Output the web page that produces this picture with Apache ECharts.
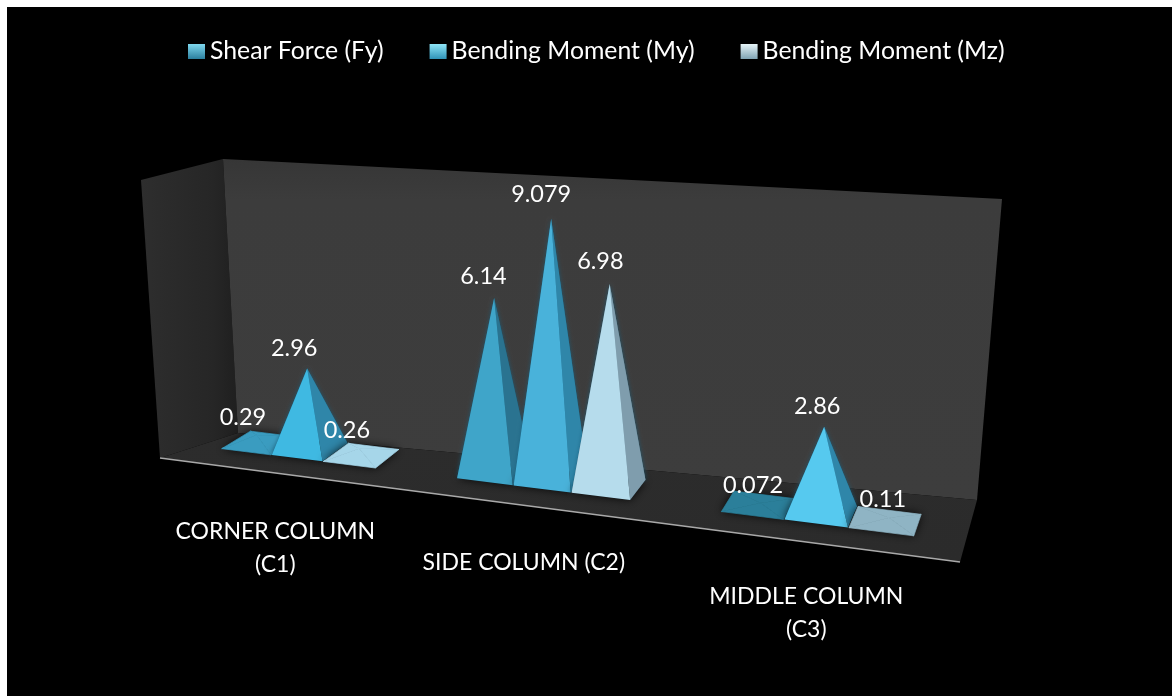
<!DOCTYPE html>
<html>
<head>
<meta charset="utf-8">
<style>html,body{margin:0;padding:0;background:#fff}#chart{width:1172px;height:696px}</style>
<script src="https://cdn.jsdelivr.net/npm/echarts@6/dist/echarts.min.js"></script>
</head>
<body>
<div id="chart"></div>
<script>
const categories = ['CORNER COLUMN\n(C1)', 'SIDE COLUMN (C2)', 'MIDDLE COLUMN\n(C3)'];
const shearForceFy = [0.29, 6.14, 0.072];
const bendingMomentMy = [2.96, 9.079, 2.86];
const bendingMomentMz = [0.26, 6.98, 0.11];
const seriesNames = ['Shear Force (Fy)', 'Bending Moment (My)', 'Bending Moment (Mz)'];

const FONT = 'Lato';

// Face colours of each pyramid, per series; front is listed per category,
// low holds the tint of nearly flat marks (taller, shorter)
const faces = [
  { front: ['#3ea3c8', '#3fa5c9', '#3fa5c9'], side: '#2a7390', back: '#1f5d76',
    low: ['#3a9cc0', '#2b7f9a'], swatch: ['#7fd8ee', '#2b7f9e'] },
  { front: ['#3fb9e2', '#49b2da', '#56c9ef'], side: '#2f86a9', back: '#1f6380',
    low: ['#45b5dc', '#45b5dc'], swatch: ['#8fe6f8', '#2f93b8'] },
  { front: ['#b9deee', '#b6dcec', '#b9deee'], side: '#7f9dad', back: '#5f7d8c',
    low: ['#a6d6e9', '#8fb4c4'], swatch: ['#e6f4f8', '#7fa3b3'] }
];

// Oblique floor projection: bands widen slightly to the right and the floor tilts downwards
const SPREAD = 14.5, TILT = 0.126;
function floorPoint(u, centre, band, zeroY) {
  const x = centre + band * u + SPREAD * u * u;
  return [x, zeroY + TILT * (x - centre)];
}
function depthVector(u) { return [18 - 8 * u, -(19.5 + 1.5 * u)]; }

function pyramid(seriesIndex) {
  return function (params, api) {
    const cat = api.value(0), value = api.value(1);
    const origin = api.coord([cat, 0]);
    const peak = api.coord([cat, value]);
    const band = api.size([1, 0])[0];
    const centre = api.coord([1, 0])[0];
    const u = (origin[0] - centre) / band + (seriesIndex - 1) * 0.2235;
    const half = 0.11;
    const fl = floorPoint(u - half, centre, band, origin[1]);
    const fr = floorPoint(u + half, centre, band, origin[1]);
    const dl = depthVector(u - half), dr = depthVector(u + half);
    const bl = [fl[0] + dl[0], fl[1] + dl[1]];
    const br = [fr[0] + dr[0], fr[1] + dr[1]];
    const height = (origin[1] - peak[1]) * (1 + 0.05 * u);
    const apex = [(fl[0] + fr[0] + bl[0] + br[0]) / 4 + 3 * u, (fl[1] + fr[1] + bl[1] + br[1]) / 4 - height];
    const f = faces[seriesIndex];
    const flat = height < 15;
    const tint = f.low[height < 4 ? 1 : 0];
    const poly = (points, fill, extra) => ({
      type: 'polygon',
      shape: { points },
      style: Object.assign({ fill }, flat ? { stroke: tint, lineWidth: 0.7 } : {}, extra || {})
    });
    const frontFill = flat ? tint : f.front[cat];
    const halo = flat ? {} : { shadowBlur: 4, shadowColor: 'rgba(25,95,125,0.8)' };
    return {
      type: 'group',
      children: [
        {
          type: 'polygon',
          shape: { points: [fl, fr, br, bl] },
          style: { fill: 'rgba(8,22,28,0.9)', shadowBlur: 10, shadowColor: 'rgba(0,0,0,0.95)' }
        },
        poly([bl, br, apex], flat ? tint : f.back, halo),
        poly([fl, bl, apex], flat ? tint : f.back, halo),
        poly([fr, br, apex], flat ? tint : f.side),
        poly([fl, fr, apex], frontFill),
        {
          type: 'text',
          z2: 50,
          style: {
            x: apex[0] - 10 + 3 * u, y: apex[1] - 18 - height * 0.023,
            text: String(value),
            fill: '#fff', font: '23.5px ' + FONT,
            align: 'center', verticalAlign: 'middle'
          }
        }
      ]
    };
  };
}

function categoryLabel(params, api) {
  const cat = api.value(0);
  const origin = api.coord([cat, 0]);
  const band = api.size([1, 0])[0];
  const centre = api.coord([1, 0])[0];
  const u = (origin[0] - centre) / band;
  const p = floorPoint(u, centre, band, origin[1]);
  return {
    type: 'text',
    style: {
      x: p[0] - 18.2 + 6 * u + 2.5 * u * u, y: p[1] + 57,
      text: categories[cat],
      fill: '#fff', font: '23px ' + FONT, lineHeight: 33,
      align: 'center', verticalAlign: 'top'
    }
  };
}

function pyramidSeries(name, values, i) {
  return {
    type: 'custom',
    name,
    z: 3 + i,
    renderItem: pyramid(i),
    encode: { x: 0, y: 1 },
    data: values.map((v, k) => [k, v])
  };
}

const wall = (points, stops, x2, y2) => ({
  type: 'polygon', z: 0, silent: true,
  shape: { points },
  style: { fill: new echarts.graphic.LinearGradient(0, 0, x2, y2, stops) }
});

const chart = echarts.init(document.getElementById('chart'));
chart.setOption({
  animation: false,
  backgroundColor: '#ffffff',
  textStyle: { fontFamily: FONT },
  grid: { left: 152.75, width: 778.5, top: 202, height: 287 },
  xAxis: { type: 'category', data: categories, show: false },
  yAxis: { type: 'value', min: 0, max: 10, show: false },
  legend: {
    left: 183, top: 34,
    itemWidth: 17, itemHeight: 15, itemGap: 46,
    textStyle: { color: '#fff', fontSize: 24.8, fontFamily: FONT },
    data: seriesNames.map((name, i) => ({
      name, icon: 'rect',
      itemStyle: {
        color: new echarts.graphic.LinearGradient(0, 0, 0, 1, [
          { offset: 0, color: faces[i].swatch[0] }, { offset: 1, color: faces[i].swatch[1] }
        ])
      }
    }))
  },
  graphic: [
    { type: 'rect', z: 0, silent: true, shape: { x: 7, y: 7, width: 1165, height: 689 }, style: { fill: '#000' } },
    wall([[141, 180], [223, 159], [238, 433], [160, 458]],
      [{ offset: 0, color: '#2e2e2e' }, { offset: 0.75, color: '#262626' }, { offset: 1, color: '#1f1f1f' }], 1, 0),
    wall([[223, 159], [1002, 199], [977, 500], [238, 433]],
      [{ offset: 0, color: '#363636' }, { offset: 0.12, color: '#3c3c3c' }, { offset: 1, color: '#3d3d3d' }], 0, 1),
    wall([[160, 458], [238, 433], [977, 500], [960, 562]],
      [{ offset: 0, color: '#2c2c2c' }, { offset: 1, color: '#2b2b2b' }], 0, 1),
    { type: 'polyline', z: 1, silent: true, shape: { points: [[160, 458], [960, 562]] },
      style: { stroke: '#a9a9a9', lineWidth: 1.6, fill: null } }
  ],
  series: [
    pyramidSeries(seriesNames[0], shearForceFy, 0),
    pyramidSeries(seriesNames[1], bendingMomentMy, 1),
    pyramidSeries(seriesNames[2], bendingMomentMz, 2),
    {
      type: 'custom', name: 'categories', z: 8, silent: true,
      renderItem: categoryLabel,
      encode: { x: 0, y: 1 },
      data: categories.map((c, k) => [k, 0])
    }
  ]
});
</script>
</body>
</html>
